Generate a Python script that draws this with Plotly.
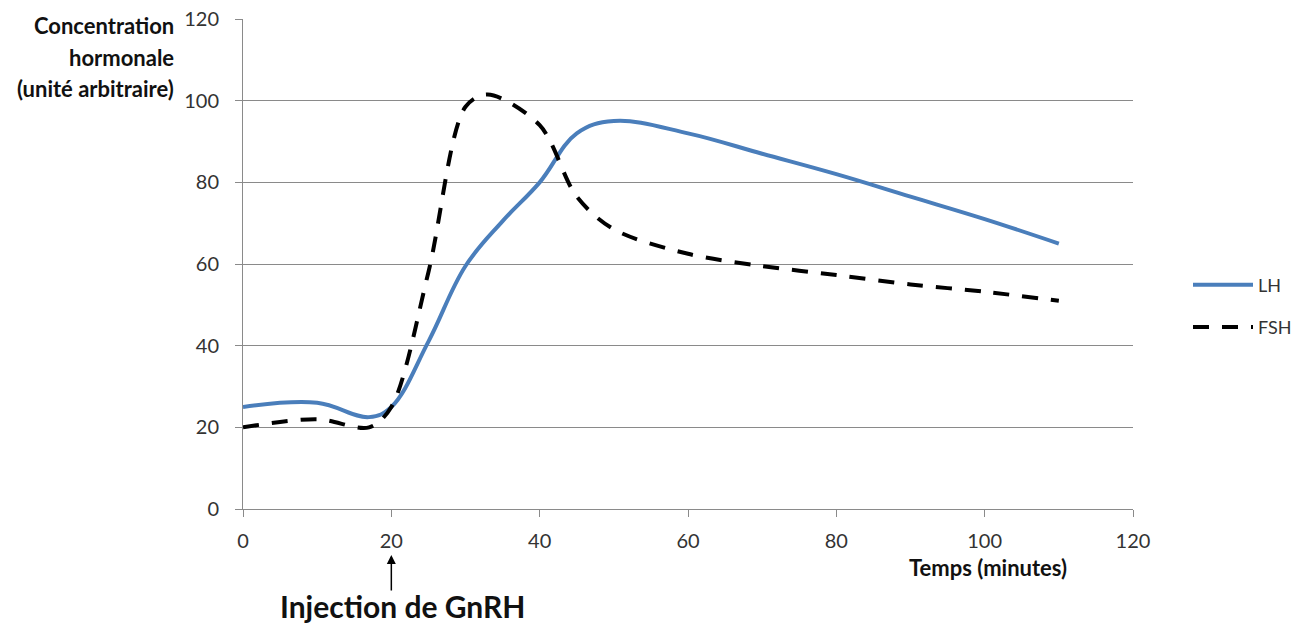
import plotly.graph_objects as go

# Data
lh_time = [0, 10, 17, 20, 25, 30, 35, 40, 45, 50, 60, 70, 80, 90, 100, 110]
lh_values = [25, 26, 22.5, 25, 41, 59.5, 70.5, 80, 92, 95, 92, 87, 82, 76.5, 71, 65]

fsh_time = [0, 10, 17, 20, 25, 30, 33, 40, 45, 50, 60, 70, 80, 90, 100, 110]
fsh_values = [20, 22, 20, 25, 58, 98.5, 101.5, 94, 76.5, 68.5, 62.5, 59.5, 57.3, 55, 53.2, 51]

series_names = ["LH", "FSH"]
y_ticks = [0, 20, 40, 60, 80, 100, 120]
x_ticks = [0, 20, 40, 60, 80, 100, 120]
y_title_lines = ["Concentration", "hormonale", "(unité arbitraire)"]

FONT = "Lato, 'Open Sans', sans-serif"
GRID = "#8a8a8a"

W, H = 1313, 624
L, T, R, B = 243, 19, 1313 - 1133, 624 - 509
PW, PH = W - L - R, H - T - B


def px_x(p):
    return (p - L) / PW


def px_y(p):
    return (H - B - p) / PH


fig = go.Figure()
fig.add_trace(go.Scatter(
    x=lh_time, y=lh_values, name=series_names[0], mode="lines",
    line=dict(color="#4a7ebb", width=4, shape="spline", smoothing=1.1),
    legendgroup="a",
))
fig.add_trace(go.Scatter(
    x=fsh_time, y=fsh_values, name=series_names[1], mode="lines",
    line=dict(color="black", width=4, shape="spline", smoothing=0.9, dash="16px,13px"),
    legendgroup="b",
))

fig.update_layout(
    width=W, height=H,
    margin=dict(l=L, r=R, t=T, b=B, pad=0, autoexpand=False),
    plot_bgcolor="white", paper_bgcolor="white",
    font=dict(family=FONT, size=19, color="#222"),
    showlegend=True,
    legend=dict(x=px_x(1188), y=px_y(306), xanchor="left", yanchor="middle",
                font=dict(size=18, color="#333"), itemwidth=60,
                tracegroupgap=16, bgcolor="rgba(0,0,0,0)"),
    xaxis=dict(range=[0, 120], tickvals=x_ticks, showgrid=False, zeroline=False,
               showline=True, linecolor=GRID, linewidth=1, ticks="outside",
               ticklen=7, tickcolor=GRID, ticklabelstandoff=7, automargin=False,
               tickfont=dict(size=20, color="#333")),
    yaxis=dict(range=[0, 120], tickvals=y_ticks, showgrid=True, gridcolor=GRID,
               gridwidth=1, zeroline=False, showline=True, linecolor=GRID,
               linewidth=1, ticks="outside", ticklen=7, tickcolor=GRID,
               ticklabelstandoff=12, ticklabeloverflow="allow", automargin=False,
               tickfont=dict(size=20, color="#333")),
)

for i, line in enumerate(y_title_lines):
    fig.add_annotation(
        text="<b>" + line + "</b>",
        xref="paper", yref="paper", x=px_x(176), y=px_y(26 + 31 * i),
        xanchor="right", yanchor="middle", showarrow=False,
        font=dict(size=22, color="#111"),
    )
fig.add_annotation(
    text="<b>Temps (minutes)</b>",
    xref="paper", yref="paper", x=px_x(1069), y=px_y(567),
    xanchor="right", yanchor="middle", showarrow=False,
    font=dict(size=22, color="#111"),
)
fig.add_annotation(
    text="<b>Injection de GnRH</b>",
    xref="paper", yref="paper", x=px_x(402), y=px_y(606),
    xanchor="center", yanchor="middle", showarrow=False,
    font=dict(size=30, color="#111"),
)
fig.add_annotation(
    text="", x=20, xref="x", yref="paper", y=px_y(555),
    showarrow=True, ax=0, ay=37, axref="pixel", ayref="pixel",
    arrowhead=2, arrowsize=1.2, arrowwidth=1.5, arrowcolor="black",
)

fig.write_html("out.html", config={"displayModeBar": False},
               post_script="document.body.style.margin='0';")
